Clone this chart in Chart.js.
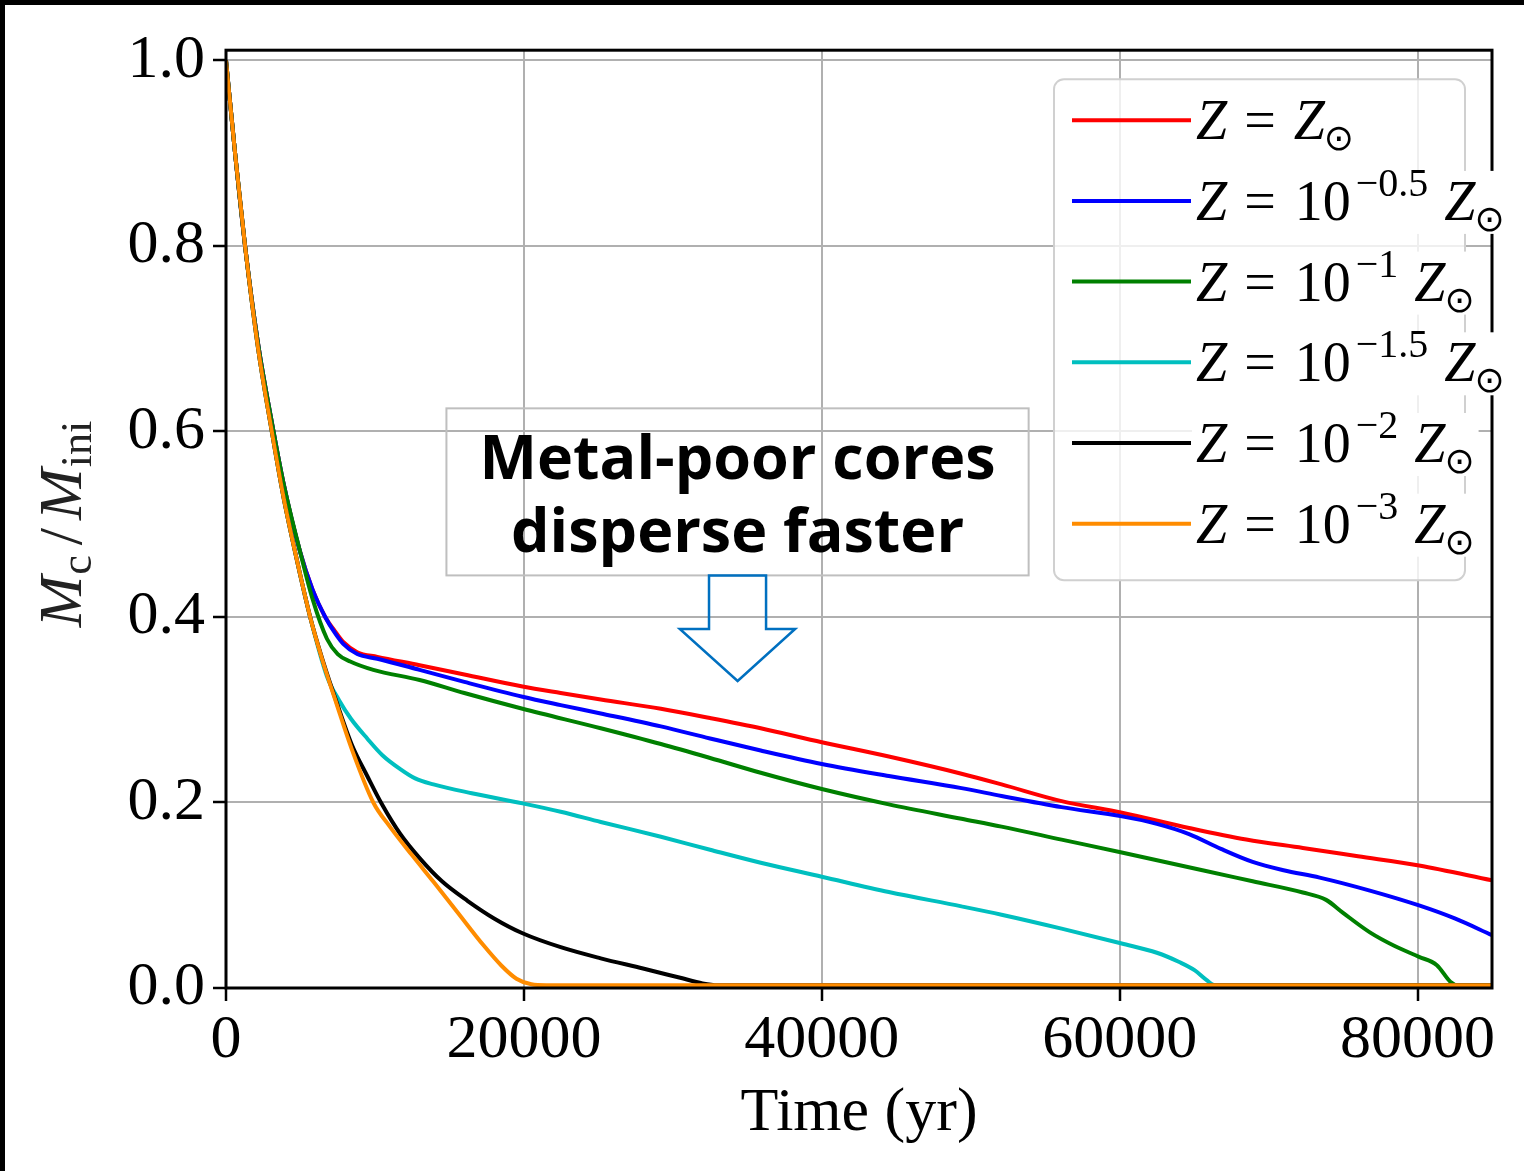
<!DOCTYPE html>
<html>
<head>
<meta charset="utf-8">
<title>Core mass evolution vs metallicity</title>
<script src="https://cdn.jsdelivr.net/npm/chart.js@4.4.1/dist/chart.umd.min.js"></script>
<style>
  html, body { margin: 0; padding: 0; background: #000; }
  #wrap { position: absolute; left: 5px; top: 5px; width: 1519px; height: 1166px; background: #fff; }
  canvas { display: block; }
</style>
</head>
<body>
<div id="wrap"><canvas id="massChart" width="1519" height="1166"></canvas></div>
<script>
// Core mass fraction Mc/Mini against time (yr), one run per metallicity

// Z = Zsun
const timeZ0 = [0, 640, 1280, 2150, 3075, 3850, 4980, 5800, 6660, 7300, 7870, 8810, 10160, 13000, 16000, 19910, 22470, 25160, 29200, 32500, 35900, 40000, 44500, 49380, 52070, 56100, 60160, 64660, 68500, 72300, 76000, 80100, 85000];
const massZ0 = [1.0, 0.895, 0.80, 0.695, 0.61, 0.545, 0.47, 0.43, 0.40, 0.385, 0.373, 0.362, 0.357, 0.348, 0.338, 0.325, 0.318, 0.311, 0.301, 0.291, 0.280, 0.265, 0.2495, 0.231, 0.2195, 0.2015, 0.189, 0.1725, 0.16, 0.151, 0.142, 0.132, 0.116];

// Z = 10^-0.5 Zsun
const timeZ05 = [0, 640, 1280, 2150, 3075, 3850, 4980, 5800, 6660, 7300, 7870, 8810, 10160, 13000, 16000, 19910, 22470, 25160, 29200, 32500, 35900, 40000, 44500, 49380, 52070, 56100, 60160, 62500, 64660, 66800, 68930, 71000, 73430, 76800, 80100, 82500, 85000];
const massZ05 = [1.0, 0.895, 0.80, 0.695, 0.61, 0.545, 0.47, 0.43, 0.40, 0.383, 0.371, 0.36, 0.355, 0.343, 0.330, 0.314, 0.305, 0.296, 0.282, 0.269, 0.256, 0.2415, 0.2285, 0.2155, 0.207, 0.195, 0.185, 0.177, 0.166, 0.150, 0.136, 0.127, 0.119, 0.105, 0.089, 0.075, 0.057];

// Z = 10^-1 Zsun
const timeZ1 = [0, 640, 1280, 2150, 3075, 3850, 4980, 5800, 6775, 7500, 8340, 9890, 13000, 16000, 19910, 25160, 29200, 32500, 35900, 40000, 44500, 49380, 52070, 56100, 60140, 65560, 68930, 72300, 73860, 75000, 76800, 78500, 80100, 81300, 82200, 82700, 85000];
const massZ1 = [1.0, 0.895, 0.80, 0.695, 0.61, 0.545, 0.47, 0.42, 0.3765, 0.36, 0.352, 0.343, 0.332, 0.318, 0.301, 0.280, 0.263, 0.248, 0.232, 0.2145, 0.198, 0.1825, 0.174, 0.160, 0.146, 0.127, 0.115, 0.103, 0.095, 0.081, 0.060, 0.045, 0.0336, 0.0246, 0.0068, 0.003, 0.003];

// Z = 10^-1.5 Zsun
const timeZ15 = [0, 640, 1280, 2150, 3075, 3850, 4640, 5650, 6775, 7600, 8400, 9480, 10500, 11700, 12700, 13930, 16500, 19910, 22470, 25160, 29200, 32500, 35900, 40000, 44500, 49380, 52070, 56100, 60140, 62500, 64000, 65050, 65800, 66400, 85000];
const massZ15 = [1.0, 0.895, 0.80, 0.69, 0.60, 0.53, 0.47, 0.40, 0.336, 0.31, 0.29, 0.269, 0.251, 0.236, 0.226, 0.2195, 0.210, 0.199, 0.190, 0.179, 0.163, 0.149, 0.135, 0.120, 0.1035, 0.088, 0.079, 0.064, 0.048, 0.038, 0.028, 0.019, 0.009, 0.003, 0.003];

// Z = 10^-2 Zsun
const timeZ2 = [0, 640, 1280, 2150, 3075, 3850, 4640, 5650, 6500, 7450, 8455, 9500, 10470, 11700, 13000, 14500, 16210, 18000, 19910, 22470, 25160, 28000, 30500, 32000, 33000, 85000];
const massZ2 = [1.0, 0.895, 0.80, 0.69, 0.60, 0.53, 0.47, 0.40, 0.353, 0.307, 0.262, 0.228, 0.198, 0.166, 0.14, 0.115, 0.094, 0.075, 0.059, 0.044, 0.032, 0.021, 0.011, 0.005, 0.003, 0.003];

// Z = 10^-3 Zsun
const timeZ3 = [0, 640, 1280, 2150, 3075, 3850, 4640, 5650, 6500, 7450, 8455, 9890, 11000, 12500, 13930, 15500, 17290, 18500, 19500, 20500, 21500, 85000];
const massZ3 = [1.0, 0.895, 0.80, 0.69, 0.60, 0.53, 0.47, 0.40, 0.352, 0.305, 0.257, 0.20, 0.174, 0.143, 0.1145, 0.0825, 0.046, 0.024, 0.010, 0.004, 0.003, 0.003];

// legend exponents of 10 (null = solar)
const zExponents = [null, '\u22120.5', '\u22121', '\u22121.5', '\u22122', '\u22123'];

// axis ticks
const xTicks = [0, 20000, 40000, 60000, 80000];
const yTicks = [0.0, 0.2, 0.4, 0.6, 0.8, 1.0];

const seriesColors = ['#ff0000', '#0000ff', '#008000', '#00bfbf', '#000000', '#ff8c00'];

// annotation (data units)
const noteBox = { t0: 14800, t1: 53890, m0: 0.4448, m1: 0.6249 };
const noteLines = ['Metal-poor cores', 'disperse faster'];
const noteBaselines = [0.5488, 0.4705];
const noteArrow = { shaftL: 32430, shaftR: 36260, headL: 30470, headR: 38210, headM: 0.387, tipT: 34350, tipM: 0.331 };

const SERIF = '"Liberation Serif", "Times New Roman", serif';

function toPoints(ts, ms) {
  return ts.map((t, i) => ({ x: t, y: ms[i] }));
}

const runs = [
  [timeZ0, massZ0], [timeZ05, massZ05], [timeZ1, massZ1],
  [timeZ15, massZ15], [timeZ2, massZ2], [timeZ3, massZ3]
];

const datasets = runs.map((r, i) => ({
  label: zExponents[i] ? 'Z = 10^' + zExponents[i] + ' Z\u2299' : 'Z = Z\u2299',
  data: toPoints(r[0], r[1]),
  borderColor: seriesColors[i],
  backgroundColor: seriesColors[i],
  borderWidth: 4,
  pointRadius: 0,
  fill: false,
  cubicInterpolationMode: 'monotone',
  order: runs.length - i   // later runs painted on top
}));

// Z with a subscript sun, optionally "10^exp" before it
function drawZLabel(ctx, x, base, exp) {
  const segs = [
    { t: 'Z', f: 'italic 56px ' + SERIF, dy: 0, gap: 17 },
    { t: '=', f: '56px ' + SERIF, dy: 0, gap: exp ? 19 : 18 }
  ];
  if (exp) {
    segs.push({ t: '10', f: '56px ' + SERIF, dy: 0, gap: 5 });
    segs.push({ t: exp, f: '40px ' + SERIF, dy: -24, gap: 16 });
  }
  segs.push({ t: 'Z', f: 'italic 56px ' + SERIF, dy: 0, gap: -1 });
  segs.push({ t: '\u2299', f: '36px "DejaVu Sans"', dy: 11, gap: 0 });

  let w = 0;
  segs.forEach(s => { ctx.font = s.f; s.w = ctx.measureText(s.t).width; w += s.w + s.gap; });

  // white backing behind the label text
  ctx.fillStyle = '#fff';
  ctx.fillRect(x - 4, base - 49, w + 8, 63);

  ctx.fillStyle = '#000';
  ctx.textAlign = 'left';
  ctx.textBaseline = 'alphabetic';
  let cx = x;
  segs.forEach(s => {
    ctx.font = s.f;
    ctx.fillText(s.t, cx, base + s.dy);
    cx += s.w + s.gap;
  });
}

function roundRect(ctx, x, y, w, h, r) {
  ctx.beginPath();
  ctx.moveTo(x + r, y);
  ctx.lineTo(x + w - r, y);
  ctx.arcTo(x + w, y, x + w, y + r, r);
  ctx.lineTo(x + w, y + h - r);
  ctx.arcTo(x + w, y + h, x + w - r, y + h, r);
  ctx.lineTo(x + r, y + h);
  ctx.arcTo(x, y + h, x, y + h - r, r);
  ctx.lineTo(x, y + r);
  ctx.arcTo(x, y, x + r, y, r);
  ctx.closePath();
}

const framePlugin = {
  id: 'frame',
  afterDatasetsDraw(chart) {
    const { ctx, chartArea: a } = chart;
    ctx.save();
    ctx.strokeStyle = '#000';
    ctx.lineWidth = 3;
    ctx.strokeRect(a.left, a.top, a.right - a.left, a.bottom - a.top);
    ctx.restore();
  }
};

const overlayPlugin = {
  id: 'overlay',
  afterDraw(chart) {
    const { ctx, chartArea: a, scales } = chart;
    const px = v => scales.x.getPixelForValue(v);
    const py = v => scales.y.getPixelForValue(v);
    ctx.save();

    // note box
    ctx.strokeStyle = '#bfbfbf';
    ctx.lineWidth = 2;
    ctx.strokeRect(px(noteBox.t0), py(noteBox.m1), px(noteBox.t1) - px(noteBox.t0), py(noteBox.m0) - py(noteBox.m1));
    ctx.fillStyle = '#000';
    ctx.font = 'bold 61px "Open Sans", sans-serif';
    ctx.textAlign = 'center';
    ctx.textBaseline = 'alphabetic';
    const midT = (noteBox.t0 + noteBox.t1) / 2;
    noteLines.forEach((s, i) => ctx.fillText(s, px(midT), py(noteBaselines[i])));

    // hollow arrow under the box
    const A = noteArrow;
    ctx.beginPath();
    ctx.moveTo(px(A.shaftL), py(noteBox.m0));
    ctx.lineTo(px(A.shaftR), py(noteBox.m0));
    ctx.lineTo(px(A.shaftR), py(A.headM));
    ctx.lineTo(px(A.headR), py(A.headM));
    ctx.lineTo(px(A.tipT), py(A.tipM));
    ctx.lineTo(px(A.headL), py(A.headM));
    ctx.lineTo(px(A.shaftL), py(A.headM));
    ctx.closePath();
    ctx.strokeStyle = '#0070c0';
    ctx.lineWidth = 2.5;
    ctx.stroke();

    // y axis title: M_c / M_ini
    const segs = [
      { t: 'M', f: 'italic 62px ' + SERIF, dy: 0, gap: 1 },
      { t: 'c', f: '44px ' + SERIF, dy: 10, gap: 10 },
      { t: '/', f: '62px ' + SERIF, dy: 0, gap: 8 },
      { t: 'M', f: 'italic 62px ' + SERIF, dy: 0, gap: 1 },
      { t: 'ini', f: '44px ' + SERIF, dy: 10, gap: 0 }
    ];
    let tw = 0;
    segs.forEach(s => { ctx.font = s.f; s.w = ctx.measureText(s.t).width; tw += s.w + s.gap; });
    ctx.translate(76, (a.top + a.bottom) / 2 + 5);
    ctx.rotate(-Math.PI / 2);
    ctx.textAlign = 'left';
    ctx.fillStyle = '#222';
    let cx = -tw / 2;
    segs.forEach(s => {
      ctx.font = s.f;
      ctx.fillText(s.t, cx, s.dy);
      cx += s.w + s.gap;
    });
    ctx.restore();

    // legend
    ctx.save();
    const lx = a.right - 438, ly = a.top + 29, lw = 411, lh = 501;
    roundRect(ctx, lx, ly, lw, lh, 10);
    ctx.fillStyle = 'rgba(255,255,255,0.8)';
    ctx.fill();
    ctx.strokeStyle = '#d0d0d0';
    ctx.lineWidth = 2;
    ctx.stroke();
    chart.data.datasets.forEach((ds, i) => {
      const rowY = ly + 41 + 80.7 * i;
      ctx.strokeStyle = ds.borderColor;
      ctx.lineWidth = 4;
      ctx.beginPath();
      ctx.moveTo(lx + 18, rowY);
      ctx.lineTo(lx + 137, rowY);
      ctx.stroke();
      drawZLabel(ctx, lx + 142, rowY + 19, zExponents[i]);
    });
    ctx.restore();
  }
};

const gridOpts = { color: '#b0b0b0', lineWidth: 2, tickColor: '#000', tickLength: 13, tickWidth: 2.5 };

new Chart(document.getElementById('massChart'), {
  type: 'line',
  data: { datasets },
  options: {
    responsive: false,
    animation: false,
    layout: { padding: { top: 40, right: 32, left: 0, bottom: 0 } },
    plugins: { legend: { display: false }, tooltip: { enabled: false } },
    scales: {
      x: {
        type: 'linear',
        min: 0,
        max: 85000,
        afterFit: s => { s.height = 183; },
        afterBuildTicks: s => { s.ticks = xTicks.map(v => ({ value: v })); },
        border: { display: false },
        grid: gridOpts,
        ticks: {
          autoSkip: false,
          padding: 3,
          color: '#000',
          maxRotation: 0,
          font: { family: SERIF, size: 62 },
          callback: v => String(v)
        },
        title: {
          display: true,
          text: 'Time (yr)',
          color: '#000',
          font: { family: SERIF, size: 62 },
          padding: { top: 0, bottom: 20 }
        }
      },
      y: {
        type: 'linear',
        min: 0,
        max: 1.011,
        afterFit: s => { s.width = 221; },
        afterBuildTicks: s => { s.ticks = yTicks.map(v => ({ value: v })); },
        border: { display: false },
        grid: gridOpts,
        ticks: {
          autoSkip: false,
          padding: 8,
          color: '#000',
          font: { family: SERIF, size: 62 },
          callback: v => v.toFixed(1)
        }
      }
    }
  },
  plugins: [framePlugin, overlayPlugin]
});
</script>
</body>
</html>
